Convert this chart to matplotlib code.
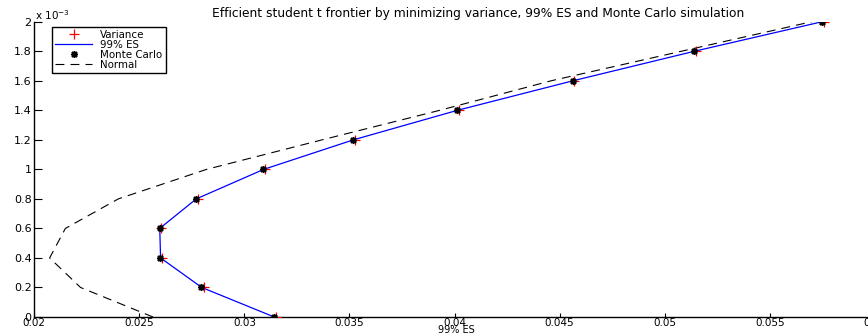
import matplotlib
matplotlib.use("Agg")
import matplotlib.pyplot as plt

# ---- data ----
returns = [0.0, 0.2e-3, 0.4e-3, 0.6e-3, 0.8e-3, 1.0e-3, 1.2e-3, 1.4e-3, 1.6e-3, 1.8e-3, 2.0e-3]
variance_es = [0.03152, 0.02807, 0.02609, 0.02604, 0.02778, 0.03099, 0.03524, 0.04019, 0.04570, 0.05147, 0.05756]
es99 = [0.03142, 0.02797, 0.02601, 0.02597, 0.02771, 0.03092, 0.03519, 0.04014, 0.04564, 0.05142, 0.05750]
monte_carlo = [0.03140, 0.02795, 0.02600, 0.02596, 0.02770, 0.03090, 0.03518, 0.04012, 0.04562, 0.05140, 0.05750]
normal = [0.02565, 0.02220, 0.02073, 0.02148, 0.02400, 0.02820, 0.03370, 0.03930, 0.04460, 0.05080, 0.05700]

xticks = [0.02, 0.025, 0.03, 0.035, 0.04, 0.045, 0.05, 0.055, 0.06]
xticklabels = ["0.02", "0.025", "0.03", "0.035", "0.04", "0.045", "0.05", "0.055", "0.06"]
yticks = [0.0, 0.2e-3, 0.4e-3, 0.6e-3, 0.8e-3, 1.0e-3, 1.2e-3, 1.4e-3, 1.6e-3, 1.8e-3, 2.0e-3]
yticklabels = ["0", "0.2", "0.4", "0.6", "0.8", "1", "1.2", "1.4", "1.6", "1.8", "2"]

title = "Efficient student t frontier by minimizing variance, 99% ES and Monte Carlo simulation"

plt.rcParams['font.family'] = ['DejaVu Sans']

W, H = 868, 335
fig = plt.figure(figsize=(W / 100, H / 100), dpi=100)
x0, x1 = 34.3, 874.8
y0, y1 = 317.0, 21.7
ax = fig.add_axes([x0 / W, (H - y0) / H, (x1 - x0) / W, (y0 - y1) / H])

ax.plot(variance_es, returns, linestyle='none', marker='+', color='red',
        markersize=6.5, markeredgewidth=0.9, label='Variance', zorder=3)
ax.plot(es99, returns, color='blue', linewidth=0.9, label='99% ES', zorder=2)
ax.plot(monte_carlo, returns, linestyle='none', marker=(8, 2, 0), color='black',
        markersize=5, markeredgewidth=1.1, label='Monte Carlo', zorder=4)
ax.plot(normal, returns, color='black', linewidth=0.8, linestyle=(0, (8, 5.5)),
        label='Normal', zorder=1)

ax.set_xlim(0.02, 0.06)
ax.set_ylim(0, 2e-3)
ax.set_xticks(xticks)
ax.set_xticklabels(xticklabels)
ax.set_yticks(yticks)
ax.set_yticklabels(yticklabels)

for s in ['top', 'right']:
    ax.spines[s].set_visible(False)
for s in ['left', 'bottom']:
    ax.spines[s].set_linewidth(1.0)

ax.tick_params(axis='x', direction='in', length=3.1, width=0.8, pad=0.8, labelsize=7.5)
ax.tick_params(axis='y', direction='in', length=5.8, width=0.8, pad=2, labelsize=8)

fig.text(456 / W, 0.0, '99% ES', ha='center', va='bottom', fontsize=7)

fig.text(478 / W, 1 - 13.5 / H, title, ha='center', va='center', fontsize=8.8)
fig.text(35 / W, 1 - 15.5 / H, r'x 10$^{-3}$', ha='left', va='center', fontsize=7.5)

leg = ax.legend(loc='upper left',
                bbox_to_anchor=((52 - x0) / (x1 - x0), (y0 - 27) / (y0 - y1)),
                borderaxespad=0, fontsize=7.4, frameon=True, fancybox=False,
                handlelength=3.6, handletextpad=0.8, labelspacing=0.0,
                borderpad=0.3, framealpha=1)
leg.get_frame().set_edgecolor('black')
leg.get_frame().set_linewidth(1.0)

fig.savefig('out.png', dpi=100)
